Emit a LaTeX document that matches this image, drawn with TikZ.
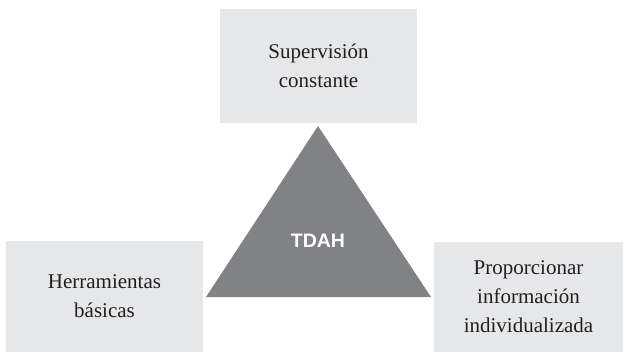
\documentclass[tikz,border=0pt]{standalone}
\usepackage{fontspec}
\setmainfont{Liberation Serif}
\newfontfamily\tdahfont{Liberation Sans}
\usetikzlibrary{positioning}
\definecolor{boxgray}{HTML}{E6E7E8}
\definecolor{trigray}{HTML}{808285}
\definecolor{textgray}{HTML}{231F20}

\begin{document}
\begin{tikzpicture}[x=1pt,y=-1pt,
    ideabox/.style={fill=boxgray, inner sep=0pt, align=center, text=textgray,
        font=\fontsize{21}{29}\selectfont}]
    \useasboundingbox (0,0) rectangle (623,353);

    % Boxes
    \node[ideabox, minimum width=197pt, minimum height=114pt] (superv) at (318.5,66) {Supervisión\\constante};
    \node[ideabox, minimum width=197pt, minimum height=111pt] (herram) at (104.5,296.5) {Herramientas\\básicas};
    \node[ideabox, minimum width=189pt, minimum height=110pt] (inform) at (528.5,297) {Proporcionar\\información\\individualizada};

    % Triangle
    \coordinate (apex) at (318,126);
    \coordinate (baseL) at (206,297);
    \coordinate (baseR) at (431,297);
    \fill[trigray] (apex) -- (baseL) -- (baseR) -- cycle;
    \node[text=white, font=\tdahfont\bfseries\fontsize{19.5}{23}\selectfont] (tdah) at (318,241) {TDAH};
\end{tikzpicture}
\end{document}
